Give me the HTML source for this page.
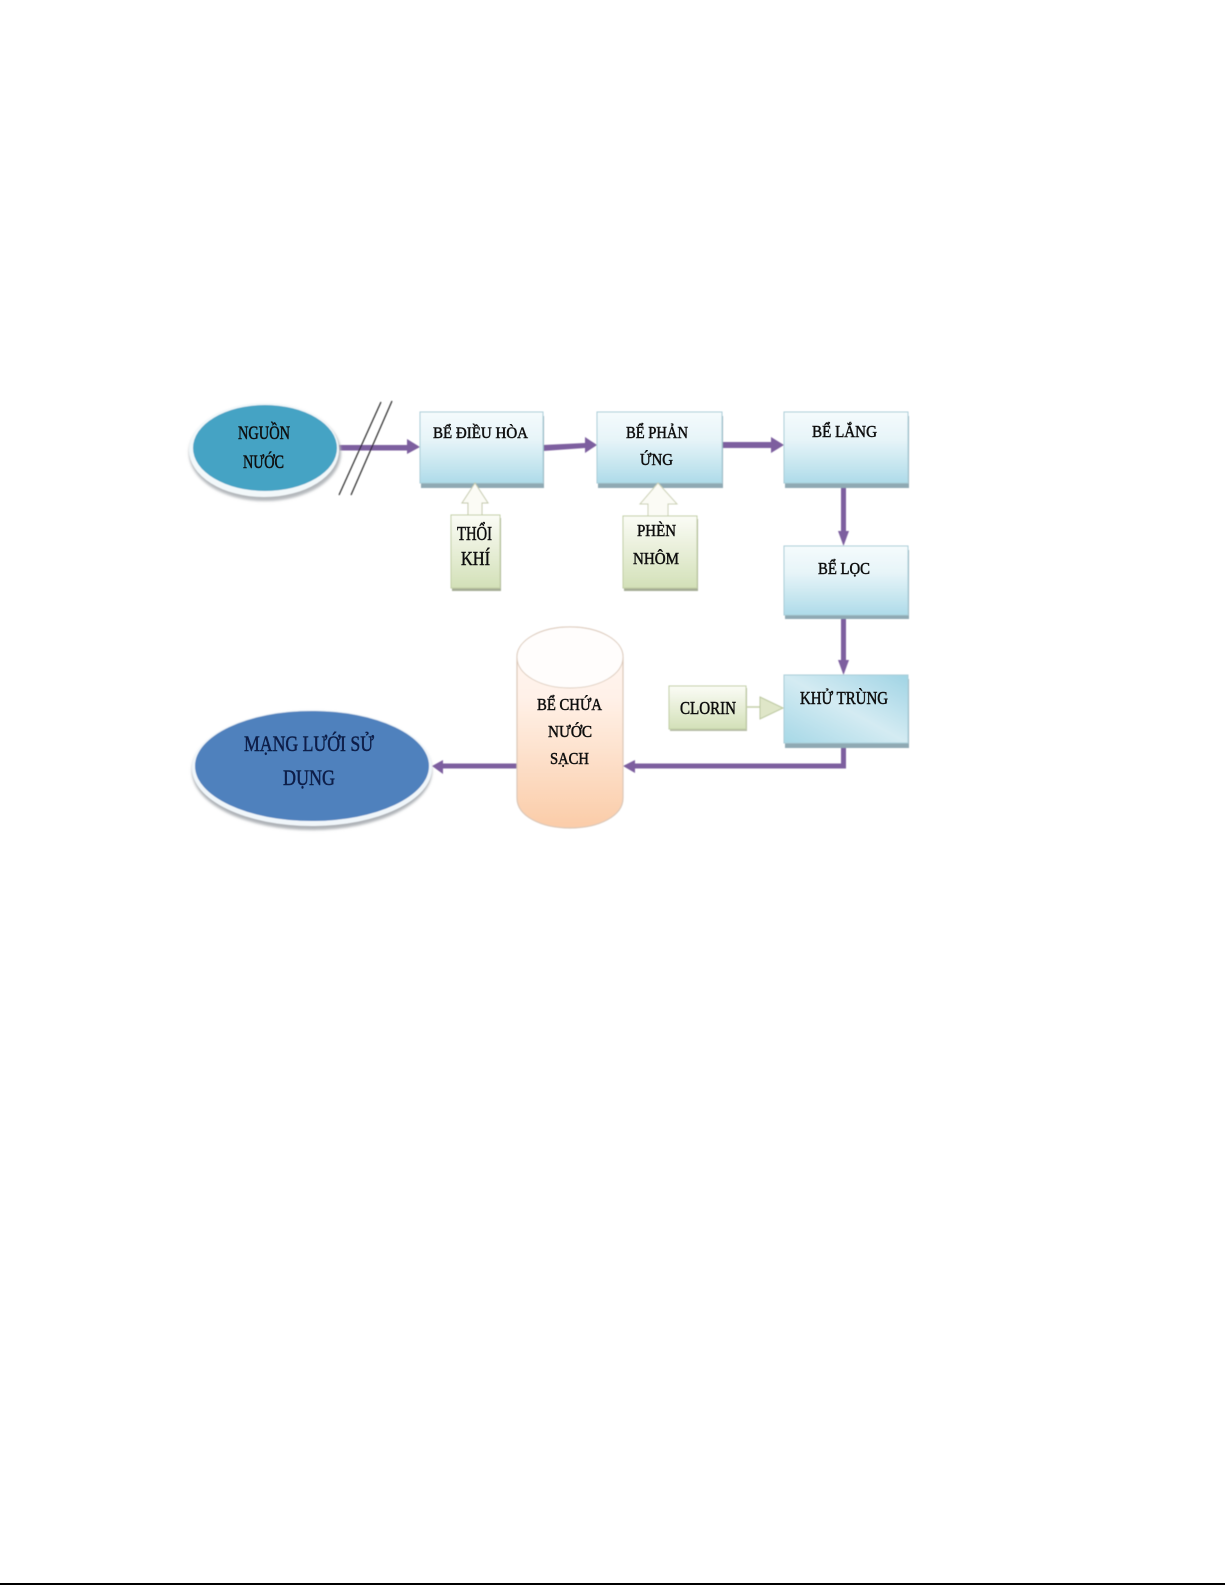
<!DOCTYPE html>
<html lang="vi">
<head>
<meta charset="utf-8">
<title>Sơ đồ xử lý nước</title>
<style>
html,body{margin:0;padding:0;background:#fff;width:1225px;height:1585px;overflow:hidden}
svg{display:block}
text{font-family:"Liberation Serif",serif;fill:#111;stroke:#111;stroke-width:.5}
</style>
</head>
<body>
<svg width="1225" height="1585" viewBox="0 0 1225 1585" xmlns="http://www.w3.org/2000/svg">
<defs>
<linearGradient id="box" x1="0" y1="0" x2="0" y2="1">
<stop offset="0" stop-color="#f5fbfd"/><stop offset=".4" stop-color="#e6f4f8"/><stop offset="1" stop-color="#aedbe9"/>
</linearGradient>
<linearGradient id="box2" x1="1" y1="0" x2="0" y2="1">
<stop offset="0" stop-color="#a0d4e4"/><stop offset=".5" stop-color="#d4ebf3"/><stop offset="1" stop-color="#a6d8e6"/>
</linearGradient>
<linearGradient id="green" x1="0" y1="0" x2="0" y2="1">
<stop offset="0" stop-color="#fbfcf6"/><stop offset="1" stop-color="#d3e0b8"/>
</linearGradient>
<linearGradient id="cyl" x1="0" y1="0" x2="0" y2="1">
<stop offset="0" stop-color="#fff8f4"/><stop offset=".35" stop-color="#fff1e8"/><stop offset="1" stop-color="#fbcca8"/>
</linearGradient>
<filter id="soft" x="-5%" y="-5%" width="110%" height="110%"><feGaussianBlur stdDeviation=".6"/></filter>
<filter id="soft2" x="-10%" y="-10%" width="120%" height="120%"><feGaussianBlur stdDeviation="1.2"/></filter>
<filter id="tsoft" x="-5%" y="-20%" width="110%" height="140%"><feGaussianBlur stdDeviation=".25"/></filter>
</defs>

<rect x="0" y="1583" width="1225" height="2" fill="#000"/>

<g filter="url(#soft)">
<!-- purple connectors -->
<g fill="#7d5f9f" stroke="none">
<path d="M338 445H407V439L420 447L407 454V450.500H338Z"/>
<path d="M543 445L585 443V437L597 445L585 453V448L543 451Z"/>
<path d="M722 442H771V437L784 445L771 453V448H722Z"/>
<path d="M841 483H846V531H849L843.500 546L838 531H841Z"/>
<path d="M841 615H846V660H849L843.500 675L838 660H841Z"/>
<path d="M841 743H846V768.500H635V773L623 766L635 760V763.500H841Z"/>
<path d="M517 763.500V768.500H443V774L432 766L443 760V763.500Z"/>
</g>

<!-- source ellipse -->
<ellipse cx="265" cy="453" rx="76" ry="48" fill="#b4b8bc" filter="url(#soft2)"/>
<ellipse cx="264" cy="450" rx="75" ry="47" fill="#f2f8fa"/>
<ellipse cx="265" cy="448" rx="72" ry="43" fill="#45a3c4"/>

<!-- user ellipse -->
<ellipse cx="312" cy="771" rx="120" ry="59" fill="#aeb2b7" filter="url(#soft2)"/>
<ellipse cx="312" cy="768" rx="120" ry="58" fill="#f0f6fa"/>
<ellipse cx="312" cy="766" rx="117" ry="55" fill="#4f81bd"/>

<!-- boxes -->
<g>
<rect x="421" y="416" width="123" height="72" fill="#8fa9b3"/>
<rect x="420" y="412" width="123" height="71" fill="url(#box)" stroke="#a9cdd8" stroke-width="1"/>
<rect x="598" y="416" width="125" height="72" fill="#8fa9b3"/>
<rect x="597" y="412" width="125" height="71" fill="url(#box)" stroke="#a9cdd8" stroke-width="1"/>
<rect x="785" y="416" width="124" height="72" fill="#8fa9b3"/>
<rect x="784" y="412" width="124" height="71" fill="url(#box)" stroke="#a9cdd8" stroke-width="1"/>
<rect x="785" y="550" width="124" height="69" fill="#8fa9b3"/>
<rect x="784" y="546" width="124" height="69" fill="url(#box)" stroke="#a9cdd8" stroke-width="1"/>
<rect x="785" y="679" width="124" height="69" fill="#8fa9b3"/>
<rect x="784" y="675" width="124" height="68" fill="url(#box2)" stroke="#a9cdd8" stroke-width="1"/>
</g>

<!-- white block arrows -->
<path d="M475 483L488 503H482V516H468V503H462Z" fill="#fbfbf5" stroke="#c4c9ac" stroke-width="1"/>
<path d="M658 483L677 504H668V517H648V504H640Z" fill="#fbfbf5" stroke="#ccd1b6" stroke-width="1"/>

<!-- green boxes -->
<rect x="452" y="518" width="49" height="73" fill="#a5ad95"/>
<rect x="451" y="515" width="49" height="73" fill="url(#green)" stroke="#c2cfa6" stroke-width="1"/>
<rect x="624" y="519" width="74" height="72" fill="#a5ad95"/>
<rect x="623" y="516" width="74" height="72" fill="url(#green)" stroke="#c2cfa6" stroke-width="1"/>
<rect x="670" y="688" width="77" height="43" fill="#b5bca5"/>
<rect x="669" y="686" width="77" height="43" fill="url(#green)" stroke="#c2cfa6" stroke-width="1"/>

<!-- clorin arrow -->
<path d="M746 707H760" stroke="#c4cfa8" stroke-width="1.500"/>
<path d="M760 697L783 708L760 719Z" fill="#dfe6c8" stroke="#bcc8a0" stroke-width="1"/>

<!-- cylinder -->
<path d="M517 657C517 640 541 627 570 627C599 627 623 640 623 657V798C623 816 599 828 570 828C541 828 517 816 517 798Z" fill="url(#cyl)" stroke="#dcc8b8" stroke-width="1.200"/>
<path d="M517 657C517 675 541 688 570 688C599 688 623 675 623 657C623 640 599 627 570 627C541 627 517 640 517 657Z" fill="#fffdfc" stroke="#decdbf" stroke-width="1"/>

<!-- slashes -->
<path d="M381 402L339 495M392 401L351 495" stroke="#1c1c1c" stroke-width="1.100" fill="none"/>
</g>

<!-- labels -->
<g filter="url(#tsoft)" font-size="17">
<text x="238" y="439" textLength="52" lengthAdjust="spacingAndGlyphs" font-size="19">NGUỒN</text>
<text x="243" y="468" textLength="41" lengthAdjust="spacingAndGlyphs" font-size="19">NƯỚC</text>
<text x="433" y="438" textLength="95" lengthAdjust="spacingAndGlyphs" font-size="16">BỂ ĐIỀU HÒA</text>
<text x="626" y="438" textLength="62" lengthAdjust="spacingAndGlyphs" font-size="17">BỂ PHẢN</text>
<text x="640" y="465" textLength="33" lengthAdjust="spacingAndGlyphs" font-size="17">ỨNG</text>
<text x="812" y="437" textLength="65" lengthAdjust="spacingAndGlyphs" font-size="17">BỂ LẮNG</text>
<text x="818" y="574" textLength="52" lengthAdjust="spacingAndGlyphs" font-size="17">BỂ LỌC</text>
<text x="800" y="704" textLength="88" lengthAdjust="spacingAndGlyphs" font-size="18">KHỬ TRÙNG</text>
<text x="457" y="540" textLength="35" lengthAdjust="spacingAndGlyphs" font-size="20">THỔI</text>
<text x="461" y="565" textLength="29" lengthAdjust="spacingAndGlyphs" font-size="20">KHÍ</text>
<text x="637" y="536" textLength="39" lengthAdjust="spacingAndGlyphs" font-size="17">PHÈN</text>
<text x="633" y="564" textLength="46" lengthAdjust="spacingAndGlyphs" font-size="17">NHÔM</text>
<text x="680" y="714" textLength="56" lengthAdjust="spacingAndGlyphs" font-size="18">CLORIN</text>
<text x="537" y="710" textLength="65" lengthAdjust="spacingAndGlyphs" font-size="17">BỂ CHỨA</text>
<text x="548" y="737" textLength="44" lengthAdjust="spacingAndGlyphs" font-size="17">NƯỚC</text>
<text x="550" y="764" textLength="39" lengthAdjust="spacingAndGlyphs" font-size="17">SẠCH</text>
<text x="244" y="751" textLength="130" lengthAdjust="spacingAndGlyphs" font-size="22" style="fill:#0c1f48;stroke:#0c1f48">MẠNG LƯỚI SỬ</text>
<text x="283" y="785" textLength="52" lengthAdjust="spacingAndGlyphs" font-size="22" style="fill:#0c1f48;stroke:#0c1f48">DỤNG</text>
</g>
</svg>
</body>
</html>
